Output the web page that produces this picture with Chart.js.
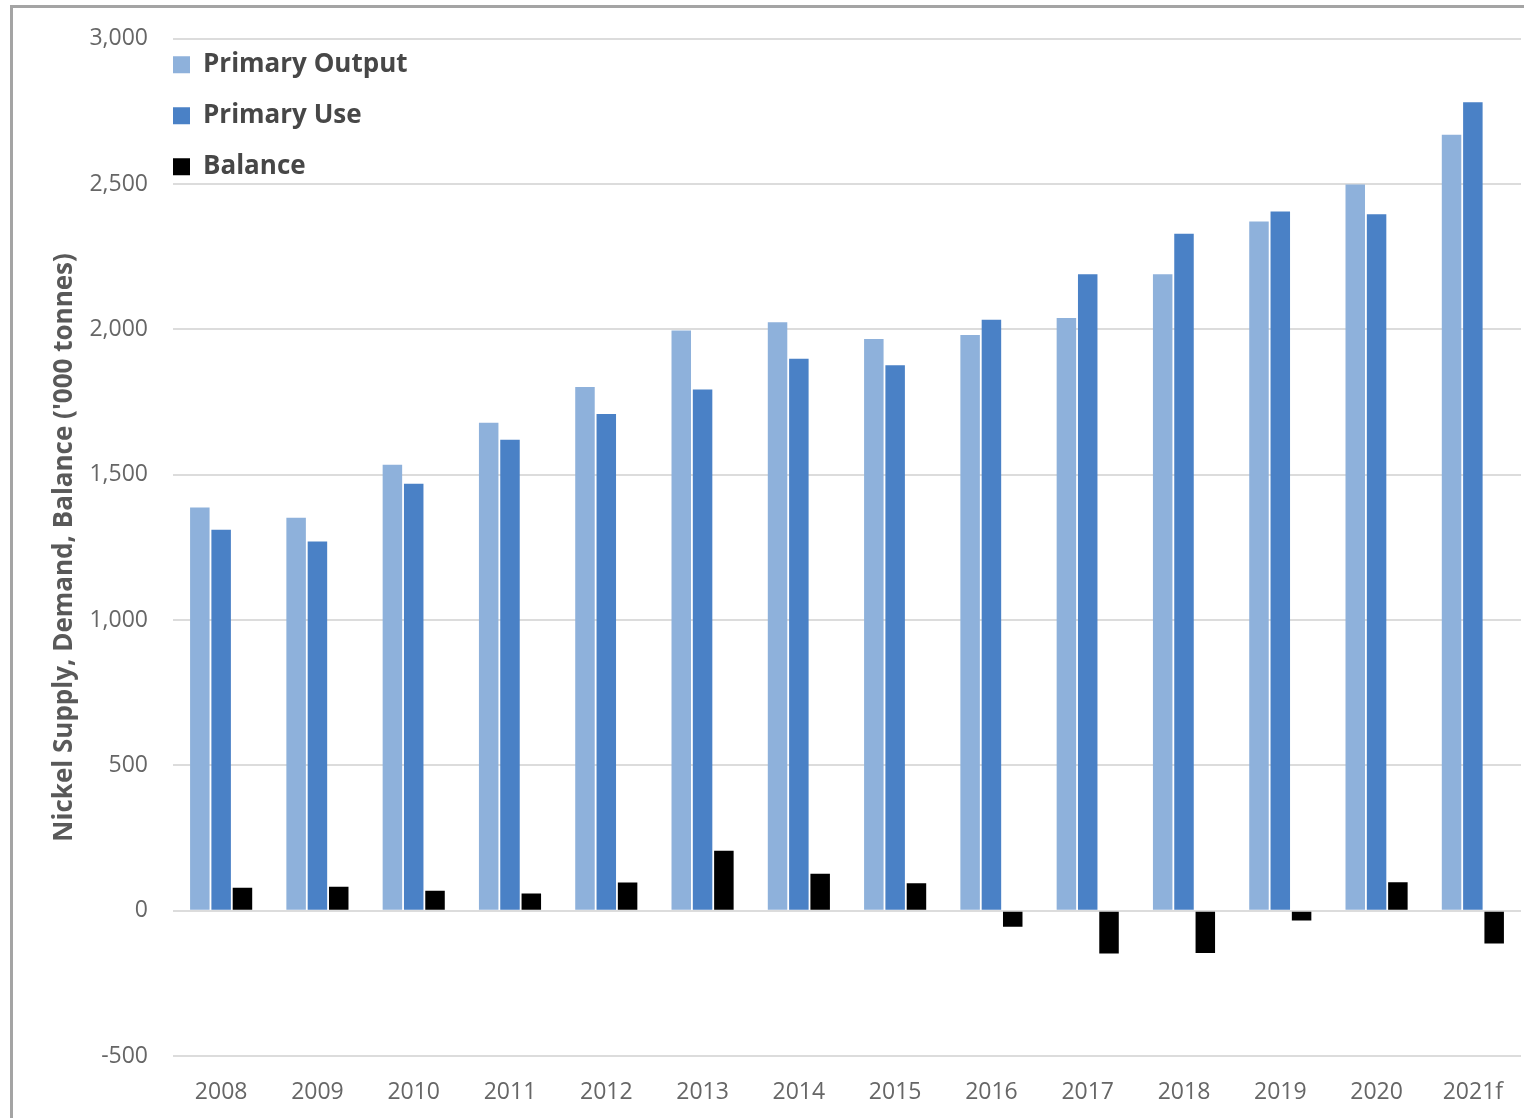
<!DOCTYPE html>
<html>
<head>
<meta charset="utf-8">
<title>Nickel Supply, Demand, Balance</title>
<script src="https://cdn.jsdelivr.net/npm/chart.js@4.4.1/dist/chart.umd.min.js"></script>
<style>
    html, body { margin: 0; padding: 0; background: #fff; overflow: hidden; }
    #wrap { position: relative; width: 1524px; height: 1118px; }
    #frame {
        position: absolute; left: 10px; top: 5px; width: 1600px; height: 1200px;
        border-left: 3px solid #a4a4a4; border-top: 3px solid #a4a4a4;
        pointer-events: none;
    }
</style>
</head>
<body>
<div id="wrap">
    <canvas id="nickelChart"></canvas>
    <div id="frame"></div>
</div>
<script>
    "use strict"

    // values, '000 tonnes
    const years = ["2008", "2009", "2010", "2011", "2012", "2013", "2014", "2015", "2016", "2017", "2018", "2019", "2020", "2021f"]
    const primaryOutput = [1387, 1352, 1534, 1679, 1802, 1996, 2025, 1967, 1981, 2039, 2190, 2371, 2499, 2670]
    const primaryUse = [1311, 1270, 1469, 1620, 1709, 1793, 1899, 1877, 2033, 2190, 2329, 2406, 2396, 2782]
    const balance = [79, 82, 69, 59, 97, 206, 127, 94, -55, -147, -146, -34, 98, -113]
    const yTicks = [-500, 0, 500, 1000, 1500, 2000, 2500, 3000]

    const FONT = "'Open Sans', 'DejaVu Sans', sans-serif"
    const GREY_TEXT = "#666666"

    // legend sits inside the plot, top-left, like the excel one
    const legendInPlot = {
        id: "legendInPlot",
        afterLayout: chart => {
            const lg = chart.legend
            const area = chart.chartArea
            if (!lg) return
            lg.left = area.left - 25
            lg.top = area.top - 12
            lg.right = lg.left + 400
            lg.bottom = lg.top + 400
            lg.width = 400
            lg.height = 400
        }
    }

    const ctx = document.getElementById("nickelChart")
    const chart = new Chart(ctx, {
        type: "bar",
        data: {
            labels: years,
            datasets: [{
                label: "Primary Output",
                data: primaryOutput,
                backgroundColor: "#8eb1db"
            }, {
                label: "Primary Use",
                data: primaryUse,
                backgroundColor: "#4a81c6"
            }, {
                label: "Balance",
                data: balance,
                backgroundColor: "#000000"
            }]
        },
        options: {
            responsive: true,
            maintainAspectRatio: false,
            animation: false,
            datasets: {
                bar: {
                    categoryPercentage: 0.664,
                    barPercentage: 0.915,
                    borderWidth: 0
                }
            },
            layout: {
                padding: { left: 0, top: 34, right: 3, bottom: 0 }
            },
            plugins: {
                tooltip: { enabled: false },
                legend: {
                    position: "chartArea",
                    align: "start",
                    labels: {
                        boxWidth: 17,
                        boxHeight: 17,
                        padding: 25,
                        color: "#474747",
                        font: { family: FONT, size: 26, weight: "700" }
                    }
                }
            },
            scales: {
                x: {
                    grid: { display: false },
                    border: { display: false },
                    ticks: {
                        color: GREY_TEXT,
                        padding: 15,
                        maxRotation: 0,
                        font: { family: FONT, size: 23 }
                    },
                    afterFit: scale => { scale.height = 62 }
                },
                y: {
                    min: -500,
                    max: 3000,
                    afterBuildTicks: scale => {
                        scale.ticks = yTicks.map(v => ({ value: v }))
                    },
                    grid: {
                        color: "#dcdcdc",
                        lineWidth: 2,
                        drawTicks: false
                    },
                    border: { display: false },
                    ticks: {
                        color: GREY_TEXT,
                        padding: 25,
                        font: { family: FONT, size: 23 },
                        callback: v => v.toLocaleString("en-US")
                    },
                    title: {
                        display: true,
                        text: "Nickel Supply, Demand, Balance ('000 tonnes)",
                        color: "#595959",
                        padding: { top: 49, bottom: 0 },
                        font: { family: FONT, size: 26, weight: "700" }
                    },
                    afterFit: scale => { scale.width = 173 }
                }
            }
        },
        plugins: [legendInPlot]
    })
</script>
</body>
</html>
